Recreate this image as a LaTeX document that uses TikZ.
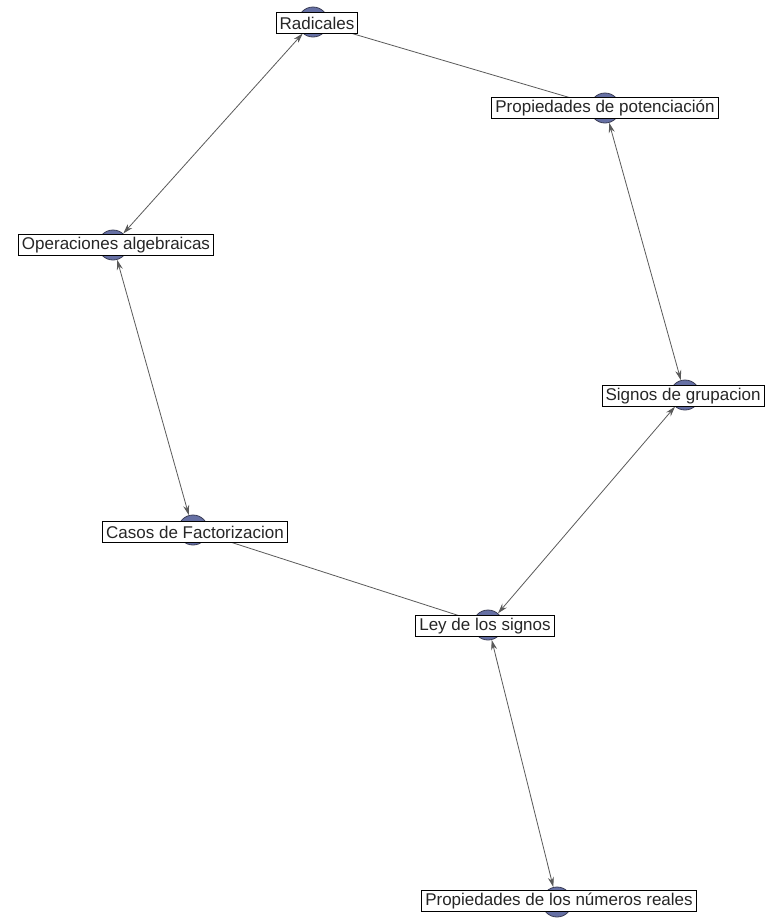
\documentclass[tikz,border=0pt]{standalone}
\usepackage{fontspec}
\setmainfont{Liberation Sans}
\usetikzlibrary{arrows.meta}
\definecolor{dotfill}{HTML}{6670A4}
\definecolor{dotline}{HTML}{3A3D55}
\definecolor{edgegray}{HTML}{5A5A5A}
\tikzset{
  dot/.style={circle,draw=dotline,fill=dotfill,line width=0.8pt,minimum size=30pt,inner sep=0pt},
  lbl/.style={draw=black,fill=white,line width=0.9pt,rectangle,inner xsep=3.5pt,inner ysep=0pt,minimum height=21pt,font=\fontsize{17}{19}\selectfont,text=black!85},
  link/.style={draw=edgegray,line width=0.8pt},
  both/.style={link,{Stealth[length=10pt,width=6pt]}-{Stealth[length=10pt,width=6pt]}}
}
\begin{document}
\begin{tikzpicture}[x=1pt,y=-1pt]
\useasboundingbox[fill=white] (0,0) rectangle (769,919);
% circles
\node[dot] (cRad) at (313,22) {};
\node[dot] (cPot) at (605,108) {};
\node[dot] (cOpe) at (113,245) {};
\node[dot] (cSig) at (685,395) {};
\node[dot] (cCas) at (193,530) {};
\node[dot] (cLey) at (488,625) {};
\node[dot] (cNum) at (557,902) {};
% edges
\draw[both] (cRad) -- (cOpe);
\draw[link] (cRad) -- (cPot);
\draw[both] (cPot) -- (cSig);
\draw[both] (cOpe) -- (cCas);
\draw[both] (cSig) -- (cLey);
\draw[link] (cCas) -- (cLey);
\draw[both] (cLey) -- (cNum);
% labels
\node[lbl] (lRad) at (317,23) {Radicales};
\node[lbl] (lPot) at (605,108) {Propiedades de potenciación};
\node[lbl] (lOpe) at (116,245) {Operaciones algebraicas};
\node[lbl] (lSig) at (683,396) {Signos de grupacion};
\node[lbl] (lCas) at (195,532) {Casos de Factorizacion};
\node[lbl] (lLey) at (485,626) {Ley de los signos};
\node[lbl] (lNum) at (559,901) {Propiedades de los números reales};
\end{tikzpicture}
\end{document}
